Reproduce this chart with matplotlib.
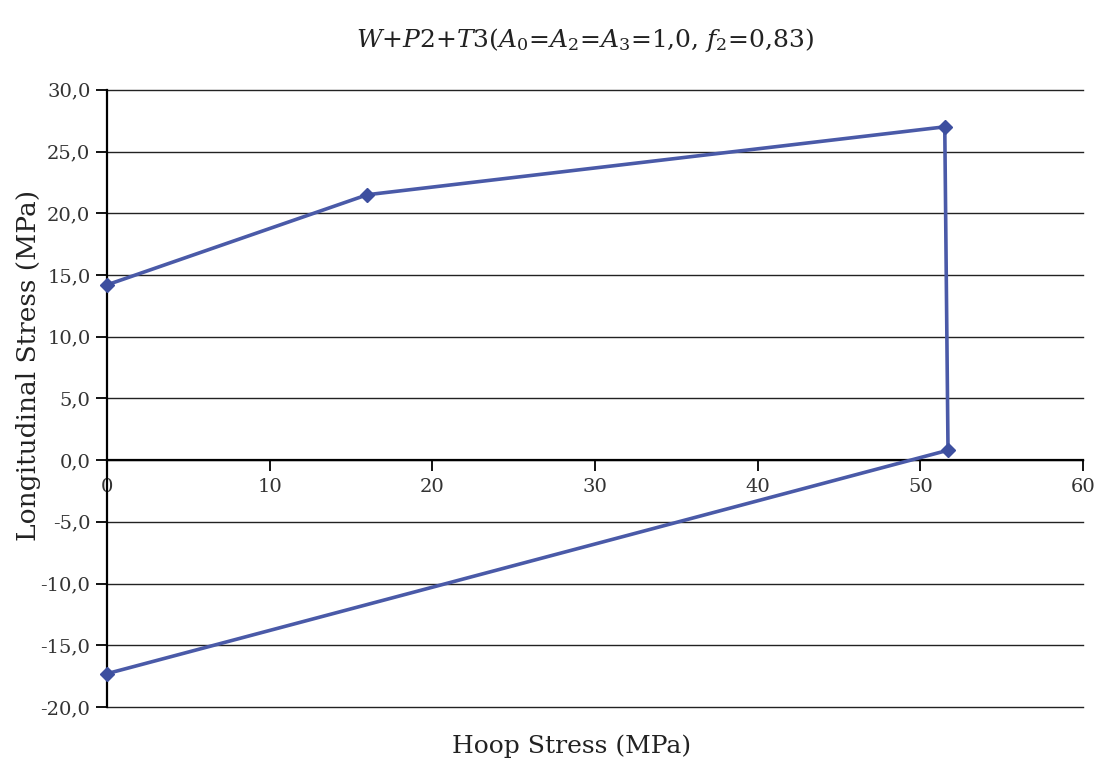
import numpy as np
import matplotlib.pyplot as plt

plt.rcParams['font.family'] = 'DejaVu Serif'
plt.rcParams['mathtext.fontset'] = 'dejavuserif'

# values
hoop = [0.0, 16.0, 51.5, 51.7, 0.0]
longit = [14.2, 21.5, 27.0, 0.8, -17.3]

x_ticks = [0, 10, 20, 30, 40, 50, 60]
x_tick_labels = ['0', '10', '20', '30', '40', '50', '60']
y_ticks = [-20, -15, -10, -5, 0, 5, 10, 15, 20, 25, 30]
y_tick_labels = ['-20,0', '-15,0', '-10,0', '-5,0', '0,0', '5,0', '10,0',
                 '15,0', '20,0', '25,0', '30,0']

fig = plt.figure(figsize=(11.04, 7.61), dpi=100)
ax = fig.add_axes([0.097, 0.071, 0.884, 0.811])

ax.spines['top'].set_visible(False)
ax.spines['right'].set_visible(False)
ax.spines['bottom'].set_position(('data', 0))
ax.spines['bottom'].set_linewidth(1.6)
ax.spines['left'].set_linewidth(1.6)
ax.spines['bottom'].set_zorder(3)

# horizontal grid lines, drawn unclipped so the -20 line is full width
for yv in y_ticks:
    ax.axhline(yv, color='#222222', lw=1.0, zorder=1, clip_on=False)

ax.plot(hoop, longit, '-', color='#4a5aa8', lw=2.6, marker='D', ms=7,
        mfc='#3d4f9f', mec='#3d4f9f', zorder=5, clip_on=False)

ax.set_xlim(0, 60)
ax.set_ylim(-20, 30)
ax.set_xticks(x_ticks)
ax.set_xticklabels(x_tick_labels)
ax.set_yticks(y_ticks)
ax.set_yticklabels(y_tick_labels)
ax.tick_params(axis='x', direction='out', length=8, width=1.3, pad=5,
               labelsize=14, labelcolor='#333333')
ax.tick_params(axis='y', direction='out', length=8, width=1.3, pad=4,
               labelsize=14, labelcolor='#333333')

for lbl in ax.get_xticklabels():
    lbl.set_bbox(dict(facecolor='white', edgecolor='none', pad=1))

ax.set_xlabel('Hoop Stress (MPa)', fontsize=18, color='#222222')
ax.xaxis.set_label_coords(0.476, -0.045)
ax.set_ylabel('Longitudinal Stress (MPa)', fontsize=19, color='#222222')
ax.yaxis.set_label_coords(-0.068, 0.553)

fig.text(0.53, 0.947,
         r'$W$+$P$2+$T$3($A_0$=$A_2$=$A_3$=1,0, $f_2$=0,83)',
         ha='center', va='center', fontsize=18, color='#222222')

fig.savefig('out.png', dpi=100)
